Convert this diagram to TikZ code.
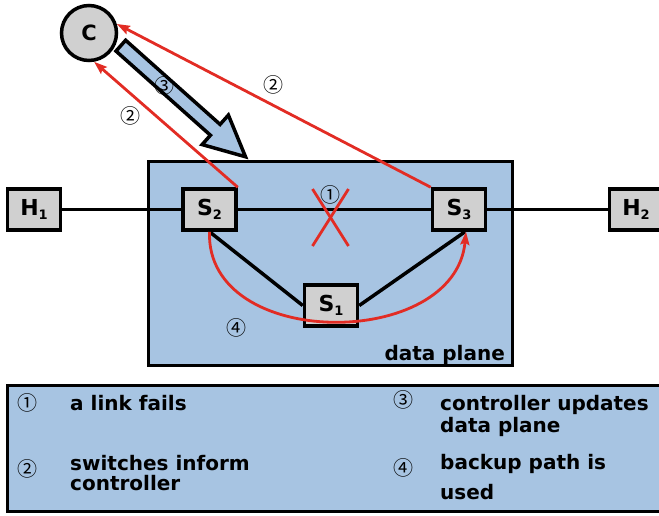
\documentclass[tikz,border=0pt]{standalone}
\usepackage{fontspec}
\setsansfont{DejaVu Sans}
\newfontfamily\circfont{Noto Sans CJK SC}
\usepackage{tikz}
\usetikzlibrary{arrows.meta, calc, shapes.arrows}
\usepackage{xcolor}
\definecolor{planeblue}{RGB}{167,196,226}
\definecolor{boxgray}{RGB}{208,208,208}
\definecolor{linkred}{RGB}{226,44,36}
\newcommand{\lowidx}[1]{\raisebox{-4pt}{\fontsize{13}{13}\selectfont #1}}

\begin{document}
\begin{tikzpicture}[x=1pt, y=-1pt,
  every node/.style={font=\sffamily\bfseries\fontsize{20}{22}\selectfont},
  devbox/.style={draw=black, fill=boxgray, line width=3.5pt, minimum width=53pt, minimum height=41pt, inner sep=0pt, font=\sffamily\bfseries\fontsize{22}{22}\selectfont},
  wire/.style={black, line width=3.5pt},
  redline/.style={linkred, line width=2.8pt},
  redarrow/.style={redline, -{Stealth[length=13pt, width=9pt, inset=2pt]}},
  numlbl/.style={font=\circfont\fontsize{20}{20}\selectfont, inner sep=0pt},
  legtxt/.style={align=left, inner sep=0pt}]
  \useasboundingbox (0,0) rectangle (659,515);

  % data plane
  \node[draw, fill=planeblue, line width=3.5pt, minimum width=364pt, minimum height=204pt, inner sep=0pt] (plane) at (330.5,263.5) {};
  \node[anchor=base east, inner sep=0pt] (planelbl) at (505,360) {data plane};

  % controller
  \node[circle, draw, fill=boxgray, line width=3.5pt, minimum size=55pt, inner sep=0pt, font=\sffamily\bfseries\fontsize{21}{21}\selectfont] (C) at (89,33) {C};

  % hosts and switches
  \node[devbox] (H1) at (34,209.5) {H\lowidx{1}};
  \node[devbox] (S2) at (209.5,209.5) {S\lowidx{2}};
  \node[devbox] (S3) at (459,209.5) {S\lowidx{3}};
  \node[devbox] (H2) at (636,209.5) {H\lowidx{2}};
  \node[devbox] (S1) at (331,305.5) {S\lowidx{1}};

  \draw[wire] (H1) -- (S2) -- (S3) -- (H2);
  \draw[wire] (S2.south) -- (S1.west);
  \draw[wire] ([xshift=6pt]S3.south) -- (S1.east);

  % failed link
  \coordinate (cut) at (330.5,217.5);
  \draw[redline] ([shift={(-18,-28.5)}]cut) -- ([shift={(18,28.5)}]cut);
  \draw[redline] ([shift={(18,-28.5)}]cut) -- ([shift={(-18,28.5)}]cut);
  \node[numlbl] (n1) at (330,195) {①};

  % switches inform controller
  \draw[redarrow] (S2.north east) -- (C.-80);
  \draw[redarrow] (S3.north west) -- (C.18);
  \node[numlbl] (n2a) at (130,116) {②};
  \node[numlbl] (n2b) at (273,85) {②};

  % controller updates data plane
  \coordinate (updtail) at (119.5,44.5);
  \node[single arrow, draw, fill=planeblue, line width=3.5pt, minimum height=167pt, single arrow head extend=12.5pt, single arrow tip angle=52, inner xsep=0pt, inner ysep=5.5pt, anchor=tail, rotate=-41.7] (upd) at (updtail) {};
  \node[numlbl] (n3) at (164,86) {③};

  % backup path
  \draw[redarrow] (S2.south) .. controls +(-4,119) and +(-11,119) .. ([xshift=7pt]S3.south);
  \node[numlbl] (n4) at (236,328) {④};

  % legend
  \node[draw, fill=planeblue, line width=3.5pt, minimum width=680pt, minimum height=126pt, inner sep=0pt] (legend) at (347.5,448.5) {};
  \node[numlbl] (k1) at (27,403) {①};
  \node[legtxt, anchor=base west] (t1) at (70,410.5) {a link fails};
  \node[numlbl] (k2) at (27,469) {②};
  \node[legtxt, anchor=north west] (t2) at (70,455.5) {switches inform\\[-2pt]controller};
  \node[numlbl] (k3) at (403,400) {③};
  \node[legtxt, anchor=north west] (t3) at (440,395.5) {controller updates\\data plane};
  \node[numlbl] (k4) at (403,468) {④};
  \node[legtxt, anchor=north west] (t4) at (440,454) {backup path is\\[8pt]used};
\end{tikzpicture}
\end{document}
